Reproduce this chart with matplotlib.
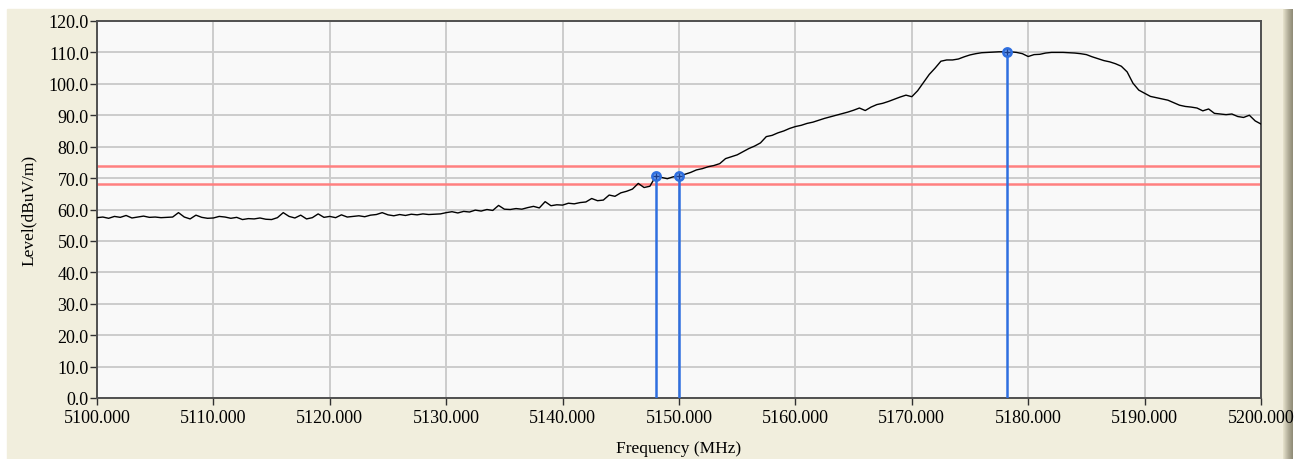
import matplotlib.pyplot as plt
import matplotlib.patches as patches
from matplotlib.colors import LinearSegmentedColormap
import numpy as np

# trace (MHz, dBuV/m), 0.5 MHz steps
freq = np.arange(5100.0, 5200.01, 0.5)
level = [
    57.4, 57.6, 57.2, 57.8, 57.5, 58.1, 57.3, 57.6, 57.9, 57.5,
    57.6, 57.4, 57.5, 57.6, 59.0, 57.6, 57.0, 58.2, 57.5, 57.2,
    57.3, 57.8, 57.6, 57.2, 57.5, 56.8, 57.1, 57.0, 57.3, 56.9,
    56.8, 57.4, 59.0, 57.8, 57.3, 58.2, 57.0, 57.4, 58.6, 57.5,
    57.8, 57.4, 58.3, 57.6, 57.8, 58.0, 57.7, 58.2, 58.4, 59.0,
    58.3, 58.0, 58.4, 58.1, 58.5, 58.3, 58.6, 58.4, 58.5, 58.6,
    59.0, 59.3, 58.9, 59.4, 59.2, 59.8, 59.5, 60.0, 59.7, 61.3,
    60.1, 60.0, 60.3, 60.1, 60.6, 61.0, 60.5, 62.5, 61.2, 61.5,
    61.4, 62.0, 61.8, 62.2, 62.4, 63.5, 62.8, 63.0, 64.6, 64.2,
    65.3, 65.8, 66.5, 68.3, 67.0, 67.4, 70.6, 70.2, 69.8, 70.4,
    70.6, 71.2, 71.8, 72.6, 73.0, 73.6, 74.0, 74.6, 76.2, 76.8,
    77.4, 78.4, 79.4, 80.2, 81.2, 83.2, 83.6, 84.4, 85.0, 85.8,
    86.4, 86.8, 87.4, 87.8, 88.4, 89.0, 89.5, 90.0, 90.5, 91.0,
    91.6, 92.3, 91.5, 92.6, 93.4, 93.8, 94.4, 95.1, 95.8, 96.4,
    95.9, 97.8, 100.4, 103.0, 105.0, 107.2, 107.6, 107.6, 107.9, 108.6,
    109.2, 109.6, 109.9, 110.0, 110.1, 110.2, 110.2, 110.2, 110.0, 109.6,
    108.7, 109.3, 109.4, 109.8, 110.0, 110.0, 110.0, 109.9, 109.8, 109.6,
    109.3, 108.6, 108.0, 107.4, 107.0, 106.4, 105.6, 103.8, 100.2, 98.0,
    97.0, 96.0, 95.6, 95.2, 94.8, 94.0, 93.2, 92.8, 92.6, 92.3,
    91.4, 92.0, 90.6, 90.4, 90.2, 90.4, 89.6, 89.3, 90.0, 88.2,
    87.2,
]

limit_lines = [74.0, 68.0]
marker_freq = [5148.0, 5150.0, 5178.2]
marker_level = [70.8, 70.6, 110.2]

xticks = np.arange(5100, 5201, 10)
yticks = np.arange(0, 121, 10)

W, H = 1302, 460
fig = plt.figure(figsize=(W / 100, H / 100), dpi=100, facecolor='white')

# beige window panel and the dark edge on the right
bg = patches.Rectangle((7 / W, 0), (1283 - 7) / W, 1 - 10 / H,
                       transform=fig.transFigure, color='#f1eedd', zorder=-10)
fig.patches.append(bg)
grad_ax = fig.add_axes([1283 / W, 0, 10 / W, 1 - 10 / H])
grad_ax.set_zorder(-5)
grad = np.linspace(0, 1, 20).reshape(1, -1)
edge_cmap = LinearSegmentedColormap.from_list('edge', ['#e6e2cc', '#b5b19c', '#8f8b76'])
grad_ax.imshow(grad, aspect='auto', cmap=edge_cmap)
grad_ax.axis('off')

ax = fig.add_axes([97 / W, 1 - 399 / H, (1261 - 97) / W, (399 - 22) / H])
ax.set_zorder(5)
ax.set_facecolor('#f9f9f9')

ax.plot(freq, level, color='black', lw=1.0, zorder=3)
for y in limit_lines:
    ax.axhline(y, color='#ff8080', lw=1.8, zorder=2)
for f, l in zip(marker_freq, marker_level):
    ax.plot([f, f], [0, l], color='#2f6fe0', lw=1.8, zorder=4)
ax.plot(marker_freq, marker_level, 'o', ms=6, mfc='#6f9ff0', mec='#2f6fe0', mew=1.8, zorder=5)
ax.plot(marker_freq, marker_level, '+', ms=4, color='#1a3f90', mew=1.0, zorder=6)

ax.set_xlim(5100, 5200)
ax.set_ylim(0, 120)
ax.set_xticks(xticks)
ax.set_yticks(yticks)
ax.set_xticklabels(['%.3f' % v for v in xticks])
ax.set_yticklabels(['%.1f' % v for v in yticks])
ax.grid(True, color='#cccccc', lw=1.4)
ax.set_axisbelow(True)
for s in ax.spines.values():
    s.set_color('#505050')
    s.set_linewidth(1.4)

font = 'Liberation Serif'
ax.tick_params(axis='both', colors='#303030', labelcolor='black', width=1.0, length=5)
ax.tick_params(axis='x', pad=3)
ax.tick_params(axis='y', pad=1)
for lab in ax.get_xticklabels() + ax.get_yticklabels():
    lab.set_fontfamily(font)
    lab.set_fontsize(13)

ax.set_xlabel('Frequency (MHz)', fontfamily=font, fontsize=12.5, labelpad=10)
ax.set_ylabel('Level(dBuV/m)', fontfamily=font, fontsize=12.5, labelpad=8)

fig.savefig('out.png', dpi=100, facecolor='white')
